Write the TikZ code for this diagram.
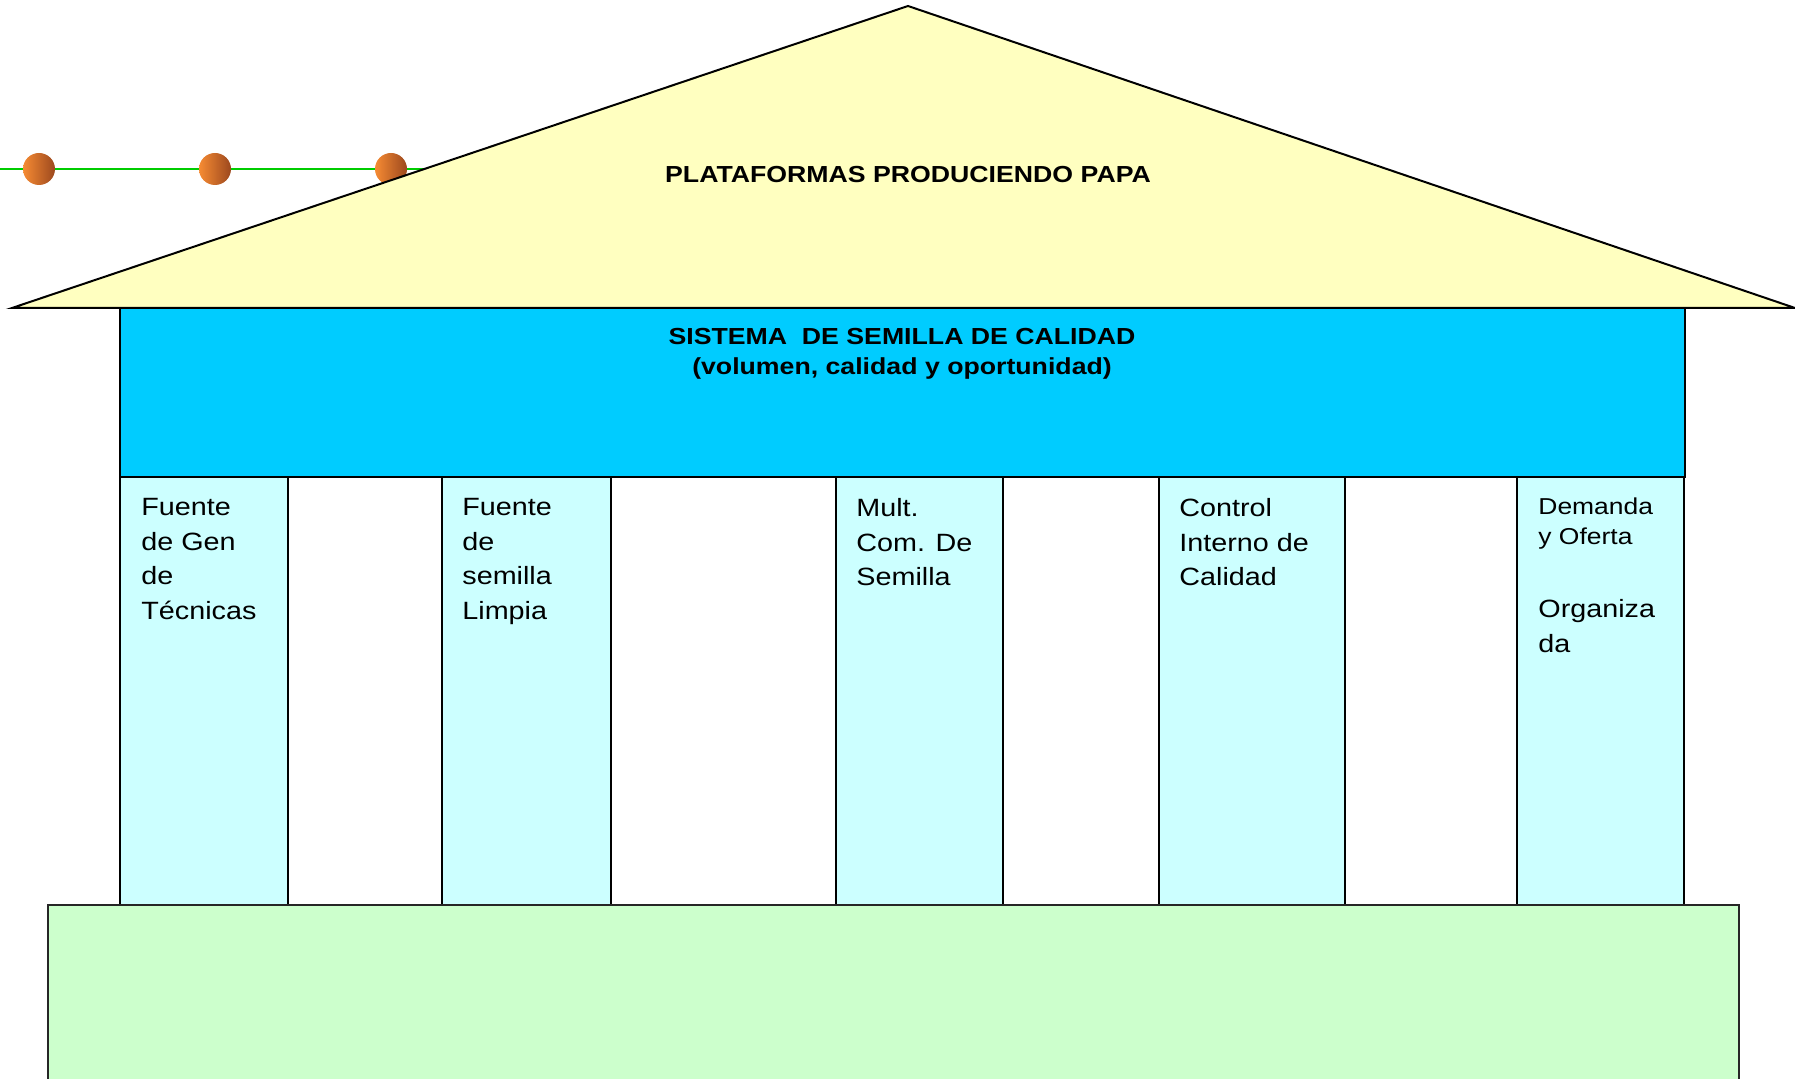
\documentclass[tikz,border=0pt]{standalone}
\usepackage{fontspec}
\setmainfont{Liberation Sans}[FakeStretch=1.15]
\usetikzlibrary{positioning}
\definecolor{rooffill}{HTML}{FFFFC0}
\definecolor{beamfill}{HTML}{00CCFF}
\definecolor{pillarfill}{HTML}{CCFFFF}
\definecolor{basefill}{HTML}{CCFFCC}
\definecolor{wirecol}{HTML}{00CC00}
\definecolor{balllight}{HTML}{F68B33}
\definecolor{balldark}{HTML}{9C481E}
\tikzstyle{roof} = [draw=black, line width=1pt, fill=rooffill]
\tikzstyle{beam} = [draw=black, line width=1pt, fill=beamfill]
\tikzstyle{pillar} = [draw=black, line width=0.8pt, fill=pillarfill]
\tikzstyle{groundbox} = [draw=black!85, line width=1.3pt, fill=basefill]
\tikzstyle{wire} = [wirecol, line width=1pt]
\tikzstyle{ball} = [circle, inner sep=0pt, minimum size=16pt, left color=balllight, right color=balldark]
\tikzstyle{heading} = [inner sep=0pt, align=center, font=\bfseries\fontsize{11.6}{15}\selectfont]
\tikzstyle{pillartext} = [anchor=north west, inner sep=0pt, align=left, font=\fontsize{12.5}{17.35}\selectfont]

\begin{document}
\begin{tikzpicture}[x=0.5pt, y=-0.5pt]
    \clip (0,0) rectangle (1795,1079);

    % wire with the three balls
    \coordinate (wirestart) at (0,169);
    \coordinate (wireend) at (424,169);
    \node (ball1) [ball] at (39,169) {};
    \node (ball2) [ball] at (215,169) {};
    \node (ball3) [ball] at (391,169) {};
    \draw [wire] (wirestart) -- (ball1) -- (ball2) -- (ball3) -- (wireend);

    % roof
    \draw [roof] (12,308) -- (908,6) -- (1795,308) -- cycle;
    \node (title) [heading] at (908,175) {PLATAFORMAS PRODUCIENDO PAPA};

    % beam
    \draw [beam] (120,308) rectangle (1685,477);
    \node (sistema) [heading, anchor=north] at (902,328) {SISTEMA\ \ DE SEMILLA DE CALIDAD\\(volumen, calidad y oportunidad)};

    % pillars
    \draw [pillar] (120,477) rectangle (288,905);
    \draw [pillar] (442,477) rectangle (611,905);
    \draw [pillar] (836,477) rectangle (1003,905);
    \draw [pillar] (1159,477) rectangle (1345,905);
    \draw [pillar] (1517,477) rectangle (1684,905);

    \node (fuentegen) [pillartext] at (141,498) {Fuente\\de Gen\\de\\Técnicas};
    \node (fuentelimpia) [pillartext] at (462,498) {Fuente\\de\\semilla\\Limpia};
    \node (multcom) [pillartext] at (856,498) {Mult.\\Com. De\\Semilla};
    \node (control) [pillartext] at (1179,498) {Control\\Interno de\\Calidad};
    \node (demanda) [pillartext, font=\fontsize{11.5}{15}\selectfont] at (1538,497) {Demanda\\y Oferta};
    \node (organizada) [pillartext] at (1538,599) {Organiza\\da};

    % base
    \draw [groundbox] (48,905) rectangle (1739,1090);

\end{tikzpicture}
\end{document}
